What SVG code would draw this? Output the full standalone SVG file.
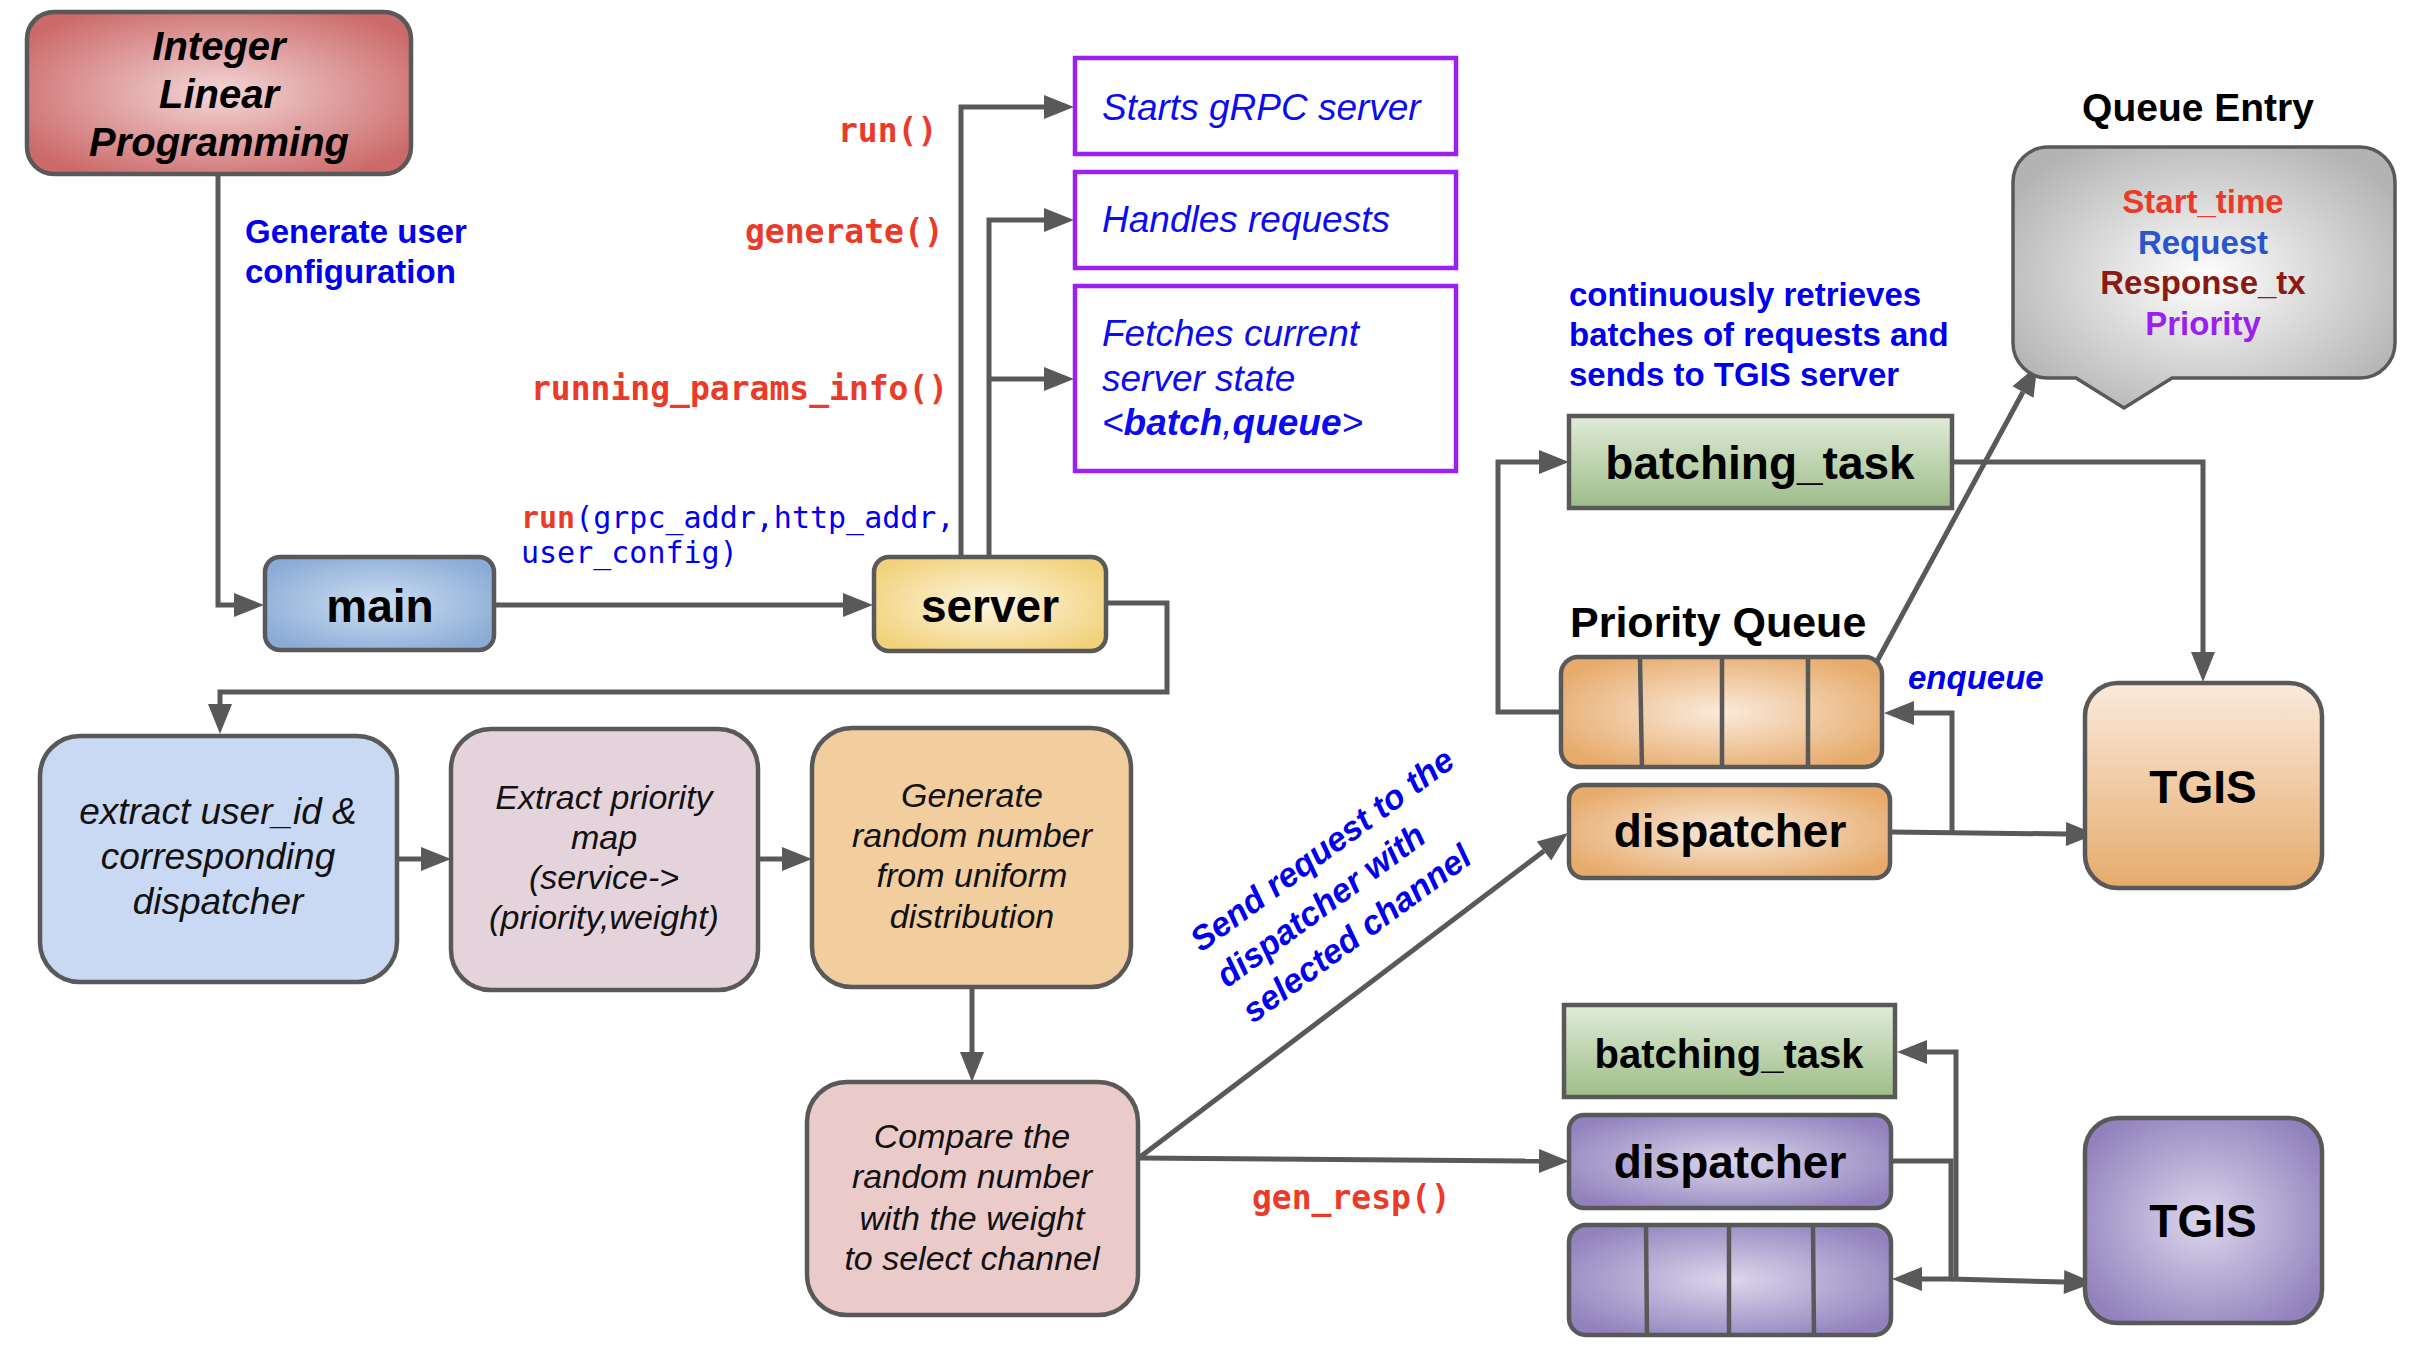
<svg xmlns="http://www.w3.org/2000/svg" width="2412" height="1352" viewBox="0 0 2412 1352">
<defs>
<radialGradient id="gRed" cx="0.5" cy="0.5" r="0.6"><stop offset="0" stop-color="#f3d6d6"/><stop offset="1" stop-color="#cc6a6a"/></radialGradient>
<radialGradient id="gBlue" cx="0.5" cy="0.5" r="0.6"><stop offset="0" stop-color="#cddef2"/><stop offset="1" stop-color="#8aabd6"/></radialGradient>
<radialGradient id="gYellow" cx="0.5" cy="0.5" r="0.6"><stop offset="0" stop-color="#fdf5df"/><stop offset="1" stop-color="#f1d17a"/></radialGradient>
<radialGradient id="gOrange" cx="0.5" cy="0.5" r="0.6"><stop offset="0" stop-color="#faeadb"/><stop offset="1" stop-color="#e6aa6a"/></radialGradient>
<linearGradient id="gOrangeV" x1="0" y1="0" x2="0" y2="1"><stop offset="0" stop-color="#faeadb"/><stop offset="1" stop-color="#e6ab6c"/></linearGradient>
<radialGradient id="gPurple" cx="0.5" cy="0.5" r="0.6"><stop offset="0" stop-color="#dcd6ec"/><stop offset="1" stop-color="#9182bd"/></radialGradient>
<linearGradient id="gGreen" x1="0" y1="0" x2="0" y2="1"><stop offset="0" stop-color="#e0ebd9"/><stop offset="1" stop-color="#9dbd87"/></linearGradient>
<radialGradient id="gGray" cx="0.5" cy="0.5" r="0.6"><stop offset="0" stop-color="#ffffff"/><stop offset="1" stop-color="#b3b3b3"/></radialGradient>
<marker id="ah" markerUnits="userSpaceOnUse" markerWidth="31" markerHeight="24" refX="0" refY="12" orient="auto" overflow="visible">
<path d="M0,0 L30,12 L0,24 Z" fill="#595959"/>
</marker>
</defs>
<style>
.box{stroke:#595959;stroke-width:4.5}
.pbox{fill:#ffffff;stroke:#9b21f3;stroke-width:4.5}
.ln{fill:none;stroke:#595959;stroke-width:5}
.arr{marker-end:url(#ah)}
.bt{font-family:"Liberation Sans",Arial,sans-serif;font-weight:bold;fill:#000}
.it{font-family:"Liberation Sans",Arial,sans-serif;font-style:italic;fill:#111}
.bl{font-family:"Liberation Sans",Arial,sans-serif;font-weight:bold;fill:#0000ee;font-size:33px}
.pit{font-family:"Liberation Sans",Arial,sans-serif;font-style:italic;fill:#0c0cf0;font-size:37px}
.mono{font-family:"DejaVu Sans Mono","Liberation Mono",monospace;font-weight:bold;fill:#ea3b2a;font-size:33px}
.mb{font-family:"DejaVu Sans Mono","Liberation Mono",monospace;fill:#0000ee;font-size:30px}
.c{text-anchor:middle}
</style>
<rect width="2412" height="1352" fill="#ffffff"/>

<g id="connectors">
<path class="ln arr" d="M218,174 V605 H234"/>
<path class="ln arr" d="M494,605 H843"/>
<path class="ln arr" d="M961,557 V107 H1044"/>
<path class="ln arr" d="M989,557 V220 H1044"/>
<path class="ln arr" d="M989,379 H1044"/>
<path class="ln arr" d="M1106,603 H1167 V692 H220 V704"/>
<path class="ln arr" d="M397,859 H421"/>
<path class="ln arr" d="M758,859 H782"/>
<path class="ln arr" d="M972,987 V1052"/>
<path class="ln arr" d="M1140,1157 L1544,851"/>
<path class="ln arr" d="M1138,1158 L1539,1161"/>
<path class="ln arr" d="M1561,712 H1498 V462 H1539"/>
<path class="ln arr" d="M1952,462 H2203 V652"/>
<path class="ln arr" d="M1890,832 L2066,834"/>
<path class="ln arr" d="M1952,832 V713 H1914"/>
<path class="ln arr" d="M1843,724 L2023,392"/>
<path class="ln" d="M1891,1161 H1951 V1279"/>
<path class="ln arr" d="M1956,1279 V1052 H1927"/>
<path class="ln arr" d="M1953,1279 H1922"/>
<path class="ln arr" d="M1951,1279 L2064,1282"/>
</g>

<g id="labels">
<text class="bl" x="245" y="243">Generate user</text>
<text class="bl" x="245" y="283">configuration</text>
<text class="mono" x="838" y="142">run()</text>
<text class="mono" x="745" y="243">generate()</text>
<text class="mono" x="531" y="400">running_params_info()</text>
<text class="mb" x="521" y="528"><tspan style="fill:#ea3b2a;font-weight:bold">run</tspan>(grpc_addr,http_addr,</text>
<text class="mb" x="521" y="563">user_config)</text>
<text class="mono" x="1252" y="1209">gen_resp()</text>
<g transform="translate(1201,953) rotate(-36.3)">
<text class="bl" style="font-style:italic;font-size:34px" x="0" y="0">Send request to the</text>
<text class="bl" style="font-style:italic;font-size:34px" x="0" y="44">dispatcher with</text>
<text class="bl" style="font-style:italic;font-size:34px" x="0" y="88">selected channel</text>
</g>
<text class="bl" x="1569" y="306">continuously retrieves</text>
<text class="bl" x="1569" y="346">batches of requests and</text>
<text class="bl" x="1569" y="386">sends to TGIS server</text>
<text class="bt" x="1570" y="637" style="font-size:43px">Priority Queue</text>
<text class="bl" x="1908" y="689" style="font-style:italic">enqueue</text>
<text class="bt c" x="2198" y="121" style="font-size:39px">Queue Entry</text>
</g>

<g id="ilp">
<rect class="box" x="27" y="12" width="384" height="162" rx="27" fill="url(#gRed)"/>
<text class="bt c" style="font-style:italic;font-size:40px" x="219" y="60">Integer</text>
<text class="bt c" style="font-style:italic;font-size:40px" x="219" y="108">Linear</text>
<text class="bt c" style="font-style:italic;font-size:40px" x="219" y="156">Programming</text>
</g>

<g id="main">
<rect class="box" x="265" y="557" width="229" height="93" rx="15" fill="url(#gBlue)"/>
<text class="bt c" style="font-size:46px" x="380" y="622">main</text>
</g>

<g id="server">
<rect class="box" x="874" y="557" width="232" height="94" rx="15" fill="url(#gYellow)"/>
<text class="bt c" style="font-size:46px" x="990" y="622">server</text>
</g>

<g id="starts-grpc">
<rect class="pbox" x="1075" y="58" width="381" height="96"/>
<text class="pit" x="1102" y="120">Starts gRPC server</text>
</g>
<g id="handles-requests">
<rect class="pbox" x="1075" y="172" width="381" height="96"/>
<text class="pit" x="1102" y="232">Handles requests</text>
</g>
<g id="fetches-state">
<rect class="pbox" x="1075" y="286" width="381" height="185"/>
<text class="pit" x="1102" y="346">Fetches current</text>
<text class="pit" x="1102" y="391">server state</text>
<text class="pit" x="1102" y="435">&lt;<tspan font-weight="bold">batch</tspan>,<tspan font-weight="bold">queue</tspan>&gt;</text>
</g>

<g id="extract-user">
<rect class="box" x="40" y="736" width="357" height="246" rx="40" fill="#c9d9f3"/>
<text class="it c" style="font-size:37px" x="218" y="824">extract user_id &amp;</text>
<text class="it c" style="font-size:37px" x="218" y="869">corresponding</text>
<text class="it c" style="font-size:37px" x="218" y="914">dispatcher</text>
</g>

<g id="extract-priority">
<rect class="box" x="451" y="729" width="307" height="261" rx="40" fill="#e5d3dc"/>
<text class="it c" style="font-size:34px" x="604" y="809">Extract priority</text>
<text class="it c" style="font-size:34px" x="604" y="849">map</text>
<text class="it c" style="font-size:34px" x="604" y="889">(service-&gt;</text>
<text class="it c" style="font-size:34px" x="604" y="929">(priority,weight)</text>
</g>

<g id="generate-random">
<rect class="box" x="812" y="728" width="319" height="259" rx="40" fill="#f2cd9e"/>
<text class="it c" style="font-size:34px" x="972" y="807">Generate</text>
<text class="it c" style="font-size:34px" x="972" y="847">random number</text>
<text class="it c" style="font-size:34px" x="972" y="887">from uniform</text>
<text class="it c" style="font-size:34px" x="972" y="928">distribution</text>
</g>

<g id="compare">
<rect class="box" x="807" y="1082" width="331" height="233" rx="40" fill="#ebcaca"/>
<text class="it c" style="font-size:34px" x="972" y="1148">Compare the</text>
<text class="it c" style="font-size:34px" x="972" y="1188">random number</text>
<text class="it c" style="font-size:34px" x="972" y="1230">with the weight</text>
<text class="it c" style="font-size:34px" x="972" y="1270">to select channel</text>
</g>

<g id="batching-task-1">
<rect class="box" x="1569" y="416" width="383" height="92" fill="url(#gGreen)"/>
<text class="bt c" style="font-size:46px" x="1760" y="479">batching_task</text>
</g>

<g id="priority-queue-1">
<rect class="box" x="1561" y="657" width="321" height="110" rx="17" fill="url(#gOrange)"/>
<path class="ln" style="stroke-width:4.5" d="M1640,659 L1642,769 M1722,659 V765 M1808,659 V765"/>
</g>

<g id="dispatcher-1">
<rect class="box" x="1569" y="785" width="321" height="93" rx="15" fill="url(#gOrange)"/>
<text class="bt c" style="font-size:46px" x="1730" y="847">dispatcher</text>
</g>

<g id="tgis-1">
<rect class="box" x="2085" y="683" width="237" height="205" rx="33" fill="url(#gOrangeV)"/>
<text class="bt c" style="font-size:46px" x="2203" y="803">TGIS</text>
</g>

<g id="queue-entry">
<path class="box" style="stroke-width:3.5" fill="url(#gGray)" d="M2048,147 H2360 A35,35 0 0 1 2395,182 V343 A35,35 0 0 1 2360,378 H2172 L2124,408 L2076,378 H2048 A35,35 0 0 1 2013,343 V182 A35,35 0 0 1 2048,147 Z"/>
<text class="bt c" style="font-size:33px;fill:#ea3b2a" x="2203" y="213">Start_time</text>
<text class="bt c" style="font-size:33px;fill:#2b55cf" x="2203" y="254">Request</text>
<text class="bt c" style="font-size:33px;fill:#8b1a12" x="2203" y="294">Response_tx</text>
<text class="bt c" style="font-size:33px;fill:#9a1ff0" x="2203" y="335">Priority</text>
</g>

<g id="batching-task-2">
<rect class="box" x="1564" y="1005" width="331" height="92" fill="url(#gGreen)"/>
<text class="bt c" style="font-size:40px" x="1729" y="1068">batching_task</text>
</g>

<g id="dispatcher-2">
<rect class="box" x="1569" y="1115" width="322" height="93" rx="15" fill="url(#gPurple)"/>
<text class="bt c" style="font-size:46px" x="1730" y="1178">dispatcher</text>
</g>

<g id="priority-queue-2">
<rect class="box" x="1569" y="1225" width="322" height="110" rx="17" fill="url(#gPurple)"/>
<path class="ln" style="stroke-width:4.5" d="M1646,1227 L1647,1335 M1729,1227 V1333 M1813,1227 L1814,1335"/>
</g>

<g id="tgis-2">
<rect class="box" x="2085" y="1118" width="237" height="205" rx="33" fill="url(#gPurple)"/>
<text class="bt c" style="font-size:46px" x="2203" y="1237">TGIS</text>
</g>
</svg>
